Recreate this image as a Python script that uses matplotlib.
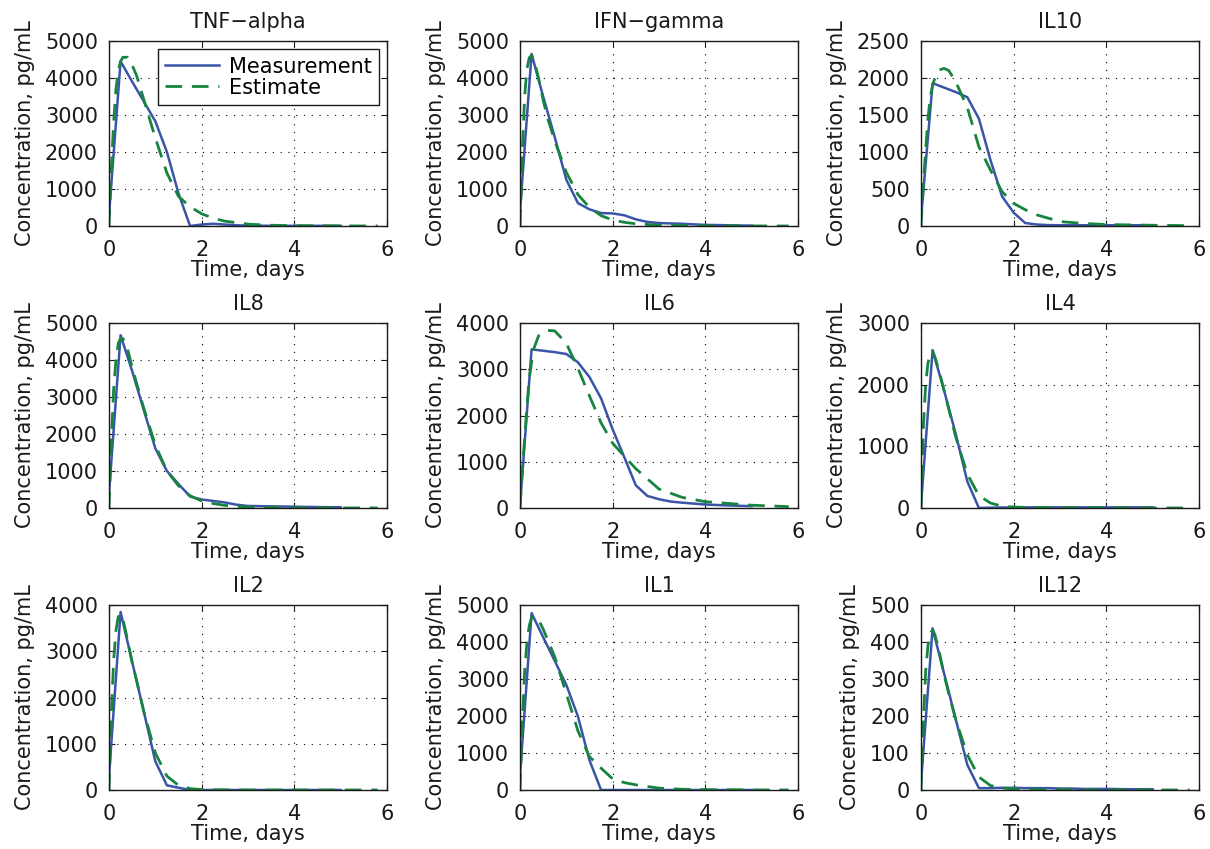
import matplotlib
matplotlib.use("Agg")
import matplotlib.pyplot as plt

plt.rcParams['font.family'] = ['DejaVu Sans']

titles = ["TNF\u2212alpha", "IFN\u2212gamma", "IL10",
          "IL8", "IL6", "IL4",
          "IL2", "IL1", "IL12"]
ymax = [5000, 5000, 2500, 5000, 4000, 3000, 4000, 5000, 500]
ystep = [1000, 1000, 500, 1000, 1000, 1000, 1000, 1000, 100]

# measurement times (days)
t_meas = [0, 0.25, 0.5, 0.75, 1.0, 1.25, 1.5, 1.75, 2.0, 2.25, 2.5, 2.75,
          3.0, 3.25, 3.5, 4.0, 4.5, 5.0]
# estimate times (days)
t_est = [0, 0.05, 0.1, 0.15, 0.2, 0.25, 0.3, 0.4, 0.5, 0.6, 0.75, 1.0, 1.25,
         1.5, 1.75, 2.0, 2.25, 2.5, 3.0, 3.5, 4.0, 5.0, 5.8]

meas_tnf = [300, 4450, 3900, 3370, 2830, 2000, 880, 0, 40, 60, 40, 20,
            10, 8, 5, 5, 5, 5]
meas_ifn = [400, 4650, 3500, 2400, 1250, 620, 450, 350, 340, 290, 180, 110,
            80, 70, 60, 30, 20, 10]
meas_il10 = [100, 1930, 1870, 1810, 1740, 1450, 890, 400, 180, 40, 20, 12,
             10, 10, 10, 10, 10, 10]
meas_il8 = [400, 4670, 3700, 2650, 1610, 1000, 650, 310, 230, 190, 150, 90,
            55, 50, 45, 35, 25, 20]
meas_il6 = [50, 3430, 3400, 3370, 3330, 3150, 2830, 2370, 1700, 1100, 490,
            260, 190, 140, 115, 75, 55, 40]
meas_il4 = [50, 2560, 1900, 1200, 430, 0, 5, 8, 10, 10, 10, 10, 10, 10, 10,
            10, 10, 10]
meas_il2 = [300, 3850, 2770, 1700, 620, 100, 50, 0, 0, 0, 0, 0, 0, 0, 0, 0,
            0, 0]
meas_il1 = [400, 4780, 4130, 3490, 2840, 1990, 800, 0, 0, 0, 0, 0, 0, 0, 0,
            0, 0, 0]
meas_il12 = [20, 437, 314, 191, 68, 5, 5, 6, 6, 5, 5, 5, 4, 4, 3, 3, 2, 2]

est_tnf = [0, 1500, 2800, 3700, 4200, 4450, 4560, 4560, 4350, 4050, 3420,
           2380, 1430, 800, 520, 330, 210, 130, 50, 20, 10, 3, 1]
est_ifn = [0, 2000, 3500, 4250, 4550, 4610, 4500, 4000, 3400, 2900, 2300,
           1450, 850, 500, 280, 160, 100, 60, 20, 10, 5, 2, 0]
est_il10 = [0, 550, 1025, 1450, 1745, 1900, 2000, 2110, 2130, 2100, 1950,
            1600, 1070, 755, 463, 305, 220, 150, 60, 35, 20, 10, 5]
est_il8 = [0, 1800, 3200, 4000, 4450, 4580, 4580, 4300, 3800, 3350, 2700,
           1700, 1000, 600, 330, 190, 120, 70, 25, 12, 5, 2, 1]
est_il6 = [0, 800, 1500, 2200, 2800, 3150, 3450, 3720, 3800, 3840, 3830,
           3560, 3020, 2420, 1840, 1400, 1120, 850, 410, 230, 137, 60, 30]
est_il4 = [0, 1300, 2000, 2350, 2500, 2550, 2450, 2200, 1900, 1600, 1150,
           550, 200, 80, 30, 15, 10, 8, 5, 3, 2, 1, 0]
est_il2 = [0, 1600, 2800, 3450, 3750, 3800, 3700, 3250, 2750, 2350, 1700,
           800, 300, 100, 30, 10, 5, 3, 1, 0, 0, 0, 0]
est_il1 = [0, 1800, 3200, 4000, 4450, 4650, 4700, 4600, 4350, 4050, 3600,
           2600, 1600, 900, 590, 300, 200, 140, 50, 20, 10, 3, 1]
est_il12 = [0, 180, 320, 390, 425, 432, 420, 370, 310, 260, 190, 95, 35, 12,
            5, 3, 2, 1, 1, 0, 0, 0, 0]

measurements = [meas_tnf, meas_ifn, meas_il10, meas_il8, meas_il6, meas_il4,
                meas_il2, meas_il1, meas_il12]
estimates = [est_tnf, est_ifn, est_il10, est_il8, est_il6, est_il4,
             est_il2, est_il1, est_il12]

blue = '#3a55a8'
green = '#17843f'
txt = '#1a1a1a'
fs = 15

fig = plt.figure(figsize=(12.1, 8.49), dpi=100)
lefts = [109 / 1210, 520 / 1210, 921 / 1210]
bottoms = [1 - 226 / 849, 1 - 508 / 849, 1 - 790 / 849]
w = 278 / 1210
h = 185 / 849

for i in range(9):
    r, c = divmod(i, 3)
    ax = fig.add_axes([lefts[c], bottoms[r], w, h])
    ax.plot(t_meas, measurements[i], '-', color=blue, lw=1.8,
            label='Measurement')
    ax.plot(t_est, estimates[i], '--', color=green, lw=2.0, dashes=(6, 3.5),
            label='Estimate')
    ax.set_xlim(0, 6)
    ax.set_ylim(0, ymax[i])
    ax.set_xticks([0, 2, 4, 6])
    ax.set_yticks(range(0, ymax[i] + 1, ystep[i]))
    ax.grid(True, linestyle=(0, (1, 6)), color='black', lw=0.8)
    ax.tick_params(direction='in', length=4, labelsize=fs, colors=txt,
                   top=True, right=True, pad=8)
    ax.tick_params(axis='x', pad=10)
    for s in ax.spines.values():
        s.set_color(txt)
        s.set_linewidth(1.0)
    ax.set_title(titles[i], fontsize=fs, color=txt, pad=9)
    ax.set_xlabel('Time, days', fontsize=fs, color=txt, labelpad=0)
    ax.set_ylabel('Concentration, pg/mL', fontsize=fs, color=txt,
                  labelpad=7)
    if i == 0:
        leg = ax.legend(loc='upper right', fontsize=fs, fancybox=False,
                        framealpha=1, edgecolor=txt, handlelength=2.6,
                        borderpad=0.35, labelspacing=0.05,
                        borderaxespad=0.4, handletextpad=0.45)
        leg.get_frame().set_linewidth(1.0)

fig.savefig('out.png', dpi=100)
